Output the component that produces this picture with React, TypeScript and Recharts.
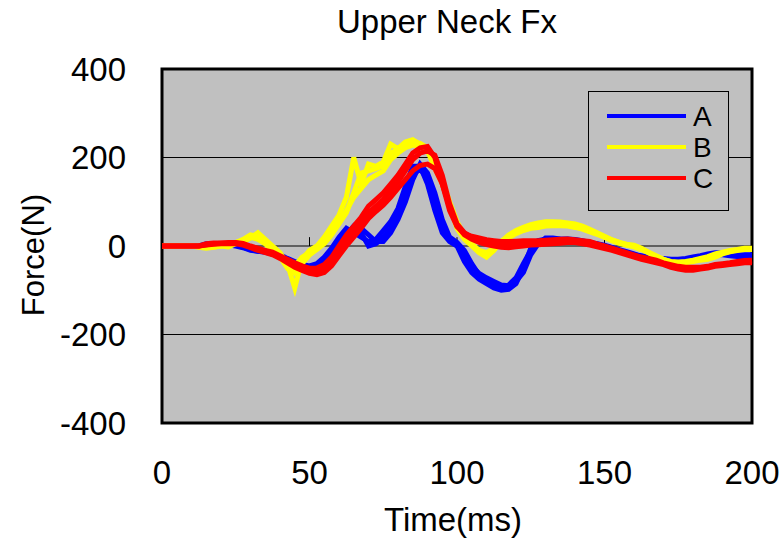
import React from 'react';
import { LineChart, Line, XAxis, YAxis, CartesianGrid, Legend, ReferenceArea, ReferenceLine } from 'recharts';

// time base (ms), one sample every 2.5 ms
const time = [
  0, 2.5, 5, 7.5, 10, 12.5, 15, 17.5, 20, 22.5, 25, 27.5, 30, 32.5, 35, 37.5, 40, 42.5, 45, 47.5,
  50, 52.5, 55, 57.5, 60, 62.5, 65, 67.5, 70, 72.5, 75, 77.5, 80, 82.5, 85, 87.5, 90, 92.5, 95, 97.5,
  100, 102.5, 105, 107.5, 110, 112.5, 115, 117.5, 120, 122.5, 125, 127.5, 130, 132.5, 135, 137.5, 140, 142.5, 145, 147.5,
  150, 152.5, 155, 157.5, 160, 162.5, 165, 167.5, 170, 172.5, 175, 177.5, 180, 182.5, 185, 187.5, 190, 192.5, 195, 197.5, 200,
];

// A (blue)
const a1 = [
  0, 0, 0, 0, 0, 0, 5, 5, 5, 5, 3, 0, -5, -8, -10, -14, -20, -28, -35, -42,
  -45, -40, -25, -5, 20, 40, 30, 20, 10, 15, 35, 55, 85, 135, 180, 180, 140, 80, 30, 10,
  0, -35, -60, -75, -85, -95, -100, -98, -85, -50, -5, 12, 15, 15, 14, 14, 12, 10, 8, 5,
  2, -3, -8, -13, -18, -24, -27, -30, -32, -34, -35, -35, -33, -28, -22, -20, -20, -22, -24, -24, -24,
];
const a2 = [
  0, 0, 0, 0, 0, 0, 0, 3, 5, 5, 2, -3, -8, -12, -12, -15, -22, -30, -38, -44,
  -48, -45, -30, -10, 10, 25, 45, 30, 0, 5, 20, 40, 70, 115, 160, 175, 150, 100, 45, 15,
  5, -20, -45, -62, -72, -80, -88, -90, -80, -60, -20, 5, 18, 18, 16, 15, 13, 10, 6, 2,
  -2, -6, -12, -18, -22, -25, -28, -30, -30, -32, -33, -32, -30, -25, -20, -18, -18, -20, -22, -22, -22,
];
const a3 = [
  0, 0, 0, 0, 0, 0, 0, 2, 4, 3, 0, -4, -10, -12, -14, -18, -25, -32, -40, -45,
  -50, -48, -35, -15, 5, 15, 35, 40, 25, 10, 10, 30, 60, 100, 150, 185, 165, 120, 60, 20,
  8, -10, -40, -65, -80, -90, -95, -88, -72, -40, -10, 8, 12, 14, 15, 16, 15, 12, 8, 4,
  0, -4, -10, -16, -20, -22, -25, -28, -28, -30, -30, -28, -25, -22, -18, -15, -15, -18, -20, -20, -20,
];

// B (yellow)
const b1 = [
  0, 0, 0, 0, 0, -3, -5, -3, 0, -2, 5, 10, 18, 30, 15, 0, -15, -40, -95, -30,
  -10, 0, 20, 45, 70, 110, 200, 140, 185, 180, 190, 230, 220, 235, 240, 230, 215, 175, 140, 90,
  40, 15, 0, -15, -25, -10, 10, 25, 35, 42, 48, 52, 55, 55, 54, 52, 50, 45, 38, 30,
  22, 14, 8, 4, 2, -5, -15, -25, -32, -38, -40, -38, -35, -32, -30, -25, -18, -13, -10, -8, -8,
];
const b2 = [
  0, 0, 0, 0, 0, 0, -3, 0, 2, 5, 8, 12, 20, 15, 5, -10, -25, -50, -45, -25,
  -15, -5, 10, 30, 55, 80, 110, 130, 150, 160, 170, 195, 210, 222, 228, 225, 215, 190, 150, 100,
  55, 25, 5, -10, -15, -5, 8, 18, 28, 35, 40, 42, 45, 46, 46, 45, 42, 38, 32, 26,
  20, 14, 8, 2, -2, -8, -16, -24, -30, -35, -36, -35, -32, -28, -24, -18, -14, -10, -8, -5, -5,
];
const b3 = [
  0, 0, 0, 0, 0, 0, 0, -2, 0, 3, 8, 15, 25, 22, 12, -5, -20, -35, -60, -40,
  -20, -8, 5, 25, 50, 75, 120, 165, 170, 175, 182, 210, 218, 228, 235, 232, 222, 185, 145, 95,
  50, 20, 2, -12, -20, -8, 10, 22, 32, 38, 44, 48, 50, 51, 50, 48, 46, 42, 35, 28,
  20, 12, 6, 2, 0, -6, -14, -22, -30, -36, -38, -36, -34, -30, -27, -22, -16, -12, -9, -6, -6,
];

// C (red)
const c1 = [
  0, 0, 0, 0, 0, 0, 5, 7, 7, 8, 8, 6, 0, -5, -10, -14, -22, -30, -38, -45,
  -50, -50, -42, -25, 0, 25, 45, 65, 90, 105, 120, 140, 160, 185, 210, 222, 225, 200, 140, 80,
  44, 28, 22, 18, 14, 12, 10, 10, 11, 12, 12, 12, 13, 14, 15, 16, 14, 12, 10, 5,
  0, -5, -10, -15, -20, -25, -28, -32, -38, -42, -46, -48, -48, -48, -46, -42, -40, -38, -35, -33, -32,
];
const c2 = [
  0, 0, 0, 0, 0, 0, 3, 5, 6, 6, 7, 4, -2, -8, -12, -18, -26, -35, -45, -52,
  -58, -60, -52, -35, -10, 15, 35, 55, 75, 90, 105, 125, 145, 170, 195, 210, 215, 205, 160, 95,
  50, 30, 20, 14, 10, 6, 4, 3, 4, 6, 7, 8, 8, 9, 10, 11, 10, 8, 5, 2,
  -2, -6, -12, -18, -22, -28, -32, -36, -40, -45, -50, -52, -52, -50, -47, -44, -42, -40, -38, -36, -35,
];
const c3 = [
  0, 0, 0, 0, 0, 0, 2, 4, 5, 5, 5, 2, -4, -10, -15, -20, -28, -38, -48, -55,
  -62, -65, -60, -45, -22, 0, 20, 40, 62, 78, 92, 110, 130, 150, 170, 182, 185, 175, 140, 90,
  45, 25, 15, 8, 3, 0, -3, -4, -2, 0, 2, 3, 4, 5, 6, 8, 8, 5, 2, -2,
  -6, -10, -15, -20, -25, -30, -34, -38, -42, -48, -52, -55, -55, -52, -50, -46, -44, -42, -40, -38, -38,
];

const groupNames = ['A', 'B', 'C'];
const groupColors = ['#0000FF', '#FFFF00', '#FF0000'];
const traces = [
  { key: 'a1', group: 0, values: a1 },
  { key: 'a2', group: 0, values: a2 },
  { key: 'a3', group: 0, values: a3 },
  { key: 'b1', group: 1, values: b1 },
  { key: 'b2', group: 1, values: b2 },
  { key: 'b3', group: 1, values: b3 },
  { key: 'c1', group: 2, values: c1 },
  { key: 'c2', group: 2, values: c2 },
  { key: 'c3', group: 2, values: c3 },
];

const xTicks = [0, 50, 100, 150, 200];
const yTicks = [-400, -200, 0, 200, 400];

const data = time.map((t, i) => {
  const row: Record<string, number> = { t };
  traces.forEach((tr) => { row[tr.key] = tr.values[i]; });
  return row;
});

const font = '"Liberation Sans", Arial, sans-serif';
const tickStyle = { fontSize: 33, fill: '#000', fontFamily: font };

const LegendBox = () => (
  <div style={{ width: 141, height: 120, boxSizing: 'border-box', border: '1px solid #000', background: '#C0C0C0' }}>
    <svg width={139} height={118} style={{ display: 'block' }}>
      {groupNames.map((name, i) => (
        <g key={name}>
          <line x1={18} x2={97} y1={24 + i * 31} y2={24 + i * 31} stroke={groupColors[i]} strokeWidth={4} />
          <text x={104} y={24 + i * 31 + 10} fontSize={28} fontFamily={font} fill="#000">{name}</text>
        </g>
      ))}
    </svg>
  </div>
);

export default function App() {
  return (
    <div style={{ position: 'absolute', left: 0, top: 0, width: 781, height: 543, background: '#fff', fontFamily: font }}>
      <div style={{ position: 'absolute', left: 0, width: 894, top: 3, textAlign: 'center', fontSize: 33, lineHeight: '38px' }}>
        Upper Neck Fx
      </div>
      <div style={{ position: 'absolute', left: 0, width: 906, top: 500, textAlign: 'center', fontSize: 33, lineHeight: '40px' }}>
        Time(ms)
      </div>
      <div style={{ position: 'absolute', left: 34 - 100, top: 255 - 20, width: 200, height: 40, lineHeight: '40px', textAlign: 'center', fontSize: 31, transform: 'rotate(-90deg)' }}>
        Force(N)
      </div>
      <div style={{ position: 'absolute', left: 0, top: 0 }}>
        <LineChart width={781} height={543} data={data} margin={{ top: 69, right: 29, bottom: 0, left: 0 }}>
          <CartesianGrid vertical={false} stroke="#000" strokeWidth={1} fill="#C0C0C0" fillOpacity={1} />
          <XAxis dataKey="t" type="number" domain={[0, 200]} ticks={xTicks} height={120}
            axisLine={false} tickLine={false} tickSize={0} tickMargin={38} tick={tickStyle} interval={0} />
          <YAxis type="number" domain={[-400, 400]} ticks={yTicks} width={162}
            axisLine={false} tickLine={false} tickSize={0} tickMargin={36} tick={tickStyle} interval={0} />
          {[50, 100, 150].map((x) => (
            <ReferenceLine key={x} segment={[{ x, y: 0 }, { x, y: 20 }]} stroke="#000" strokeWidth={1} />
          ))}
          {traces.map((tr) => (
            <Line key={tr.key} dataKey={tr.key} type="linear" stroke={groupColors[tr.group]} strokeWidth={5}
              dot={false} activeDot={false} isAnimationActive={false} legendType="none" />
          ))}
          <ReferenceArea x1={0} x2={200} y1={-400} y2={400} fill="none" stroke="#000" strokeWidth={3} ifOverflow="visible" />
          <Legend layout="horizontal" verticalAlign="middle" align="center" content={() => <LegendBox />}
            wrapperStyle={{ position: 'absolute', left: 588, top: 91, width: 141, height: 120, bottom: 'auto', right: 'auto' }} />
        </LineChart>
      </div>
    </div>
  );
}
